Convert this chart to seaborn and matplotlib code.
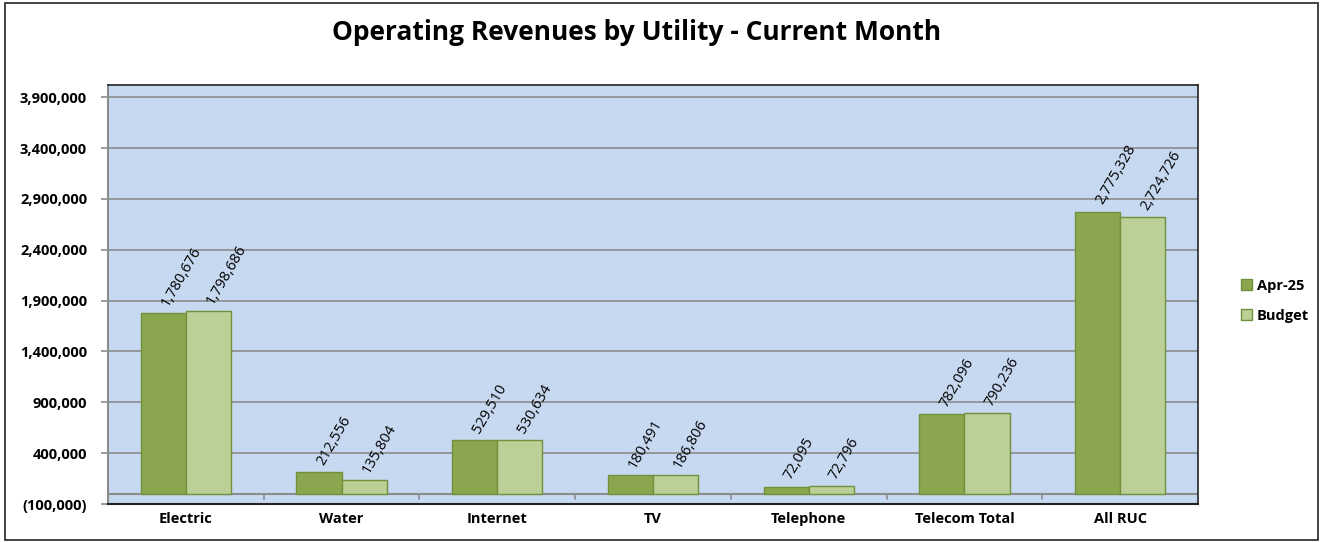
import numpy as np
import pandas as pd
import seaborn as sns
import matplotlib.pyplot as plt
from matplotlib.patches import Rectangle
from matplotlib.ticker import FuncFormatter

# values
utilities = ['Electric', 'Water', 'Internet', 'TV', 'Telephone', 'Telecom Total', 'All RUC']
actual = [1780676, 212556, 529510, 180491, 72095, 782096, 2775328]
budget = [1798686, 135804, 530634, 186806, 72796, 790236, 2724726]
series = ['Apr-25', 'Budget']
yticks = list(range(-100000, 4000001, 500000))

df = pd.DataFrame({'Utility': utilities * 2,
                   'Series': [series[0]] * len(utilities) + [series[1]] * len(utilities),
                   'Revenue': actual + budget})

sns.set_style('white')
plt.rcParams['font.family'] = ['Open Sans', 'DejaVu Sans']
plt.rcParams['text.color'] = 'black'
plt.rcParams['xtick.color'] = 'black'
plt.rcParams['ytick.color'] = 'black'

fig = plt.figure(figsize=(13.23, 5.42), dpi=100)
ax = fig.add_axes([0.0816, 0.0701, 0.8239, 0.7729])
ax.set_facecolor('#C6D9F1')

pal = {'Apr-25': '#8AA64E', 'Budget': '#BBD097'}
sns.barplot(data=df, x='Utility', y='Revenue', hue='Series', palette=pal,
            width=0.58, edgecolor='#71903C', linewidth=1.0, saturation=1,
            ax=ax, zorder=3)

ax.set_ylim(-100000, 4020000)
ax.set_xlim(-0.5, len(utilities) - 0.5)
ax.set_yticks(yticks)
ax.yaxis.set_major_formatter(FuncFormatter(
    lambda v, p: f'({abs(int(v)):,})' if v < 0 else f'{int(v):,}'))
ax.grid(axis='y', color='#8C8C8C', linewidth=1.2, zorder=0)
ax.set_axisbelow(True)

# zero line with category separators
ax.axhline(0, color='#8C8C8C', linewidth=1.5, zorder=2)
for b in np.arange(0.5, len(utilities) - 0.5, 1):
    ax.plot([b, b], [0, -50000], color='#8C8C8C', linewidth=1.2, zorder=2)

for lbl in ax.get_yticklabels() + ax.get_xticklabels():
    lbl.set_fontweight('bold')
    lbl.set_fontsize(10.5)
ax.tick_params(axis='y', length=5, color='#8C8C8C', pad=10, width=1.2, left=True)
ax.tick_params(axis='x', length=0, pad=6)
ax.set_xlabel('')
ax.set_ylabel('')

for s in ['top', 'right']:
    ax.spines[s].set_color('#222222')
    ax.spines[s].set_linewidth(1.2)
ax.spines['left'].set_color('#8C8C8C')
ax.spines['left'].set_linewidth(1.5)
ax.spines['bottom'].set_color('#222222')
ax.spines['bottom'].set_linewidth(1.5)

# data labels
for cont in ax.containers:
    for bar in cont:
        h = bar.get_height()
        ax.annotate(f'{int(round(h)):,}', (bar.get_x() + bar.get_width() / 2, h),
                    xytext=(6, 3), textcoords='offset points',
                    rotation=60, rotation_mode='anchor', ha='left', va='bottom',
                    fontsize=10.5, color='black', zorder=5)

leg = ax.legend(loc='center left', bbox_to_anchor=(1.027, 0.485), frameon=False,
                handlelength=0.8, handleheight=0.8, handletextpad=0.3,
                labelspacing=1.1, prop={'weight': 'bold', 'size': 10.5})

fig.text(0.481, 0.94, 'Operating Revenues by Utility - Current Month',
         ha='center', va='center', fontsize=19, fontweight='bold')

fig.patches.append(Rectangle((0.004, 0.004), 0.992, 0.99, transform=fig.transFigure,
                             fill=False, edgecolor='#222222', linewidth=1.2))

fig.savefig('out.png', dpi=100)
